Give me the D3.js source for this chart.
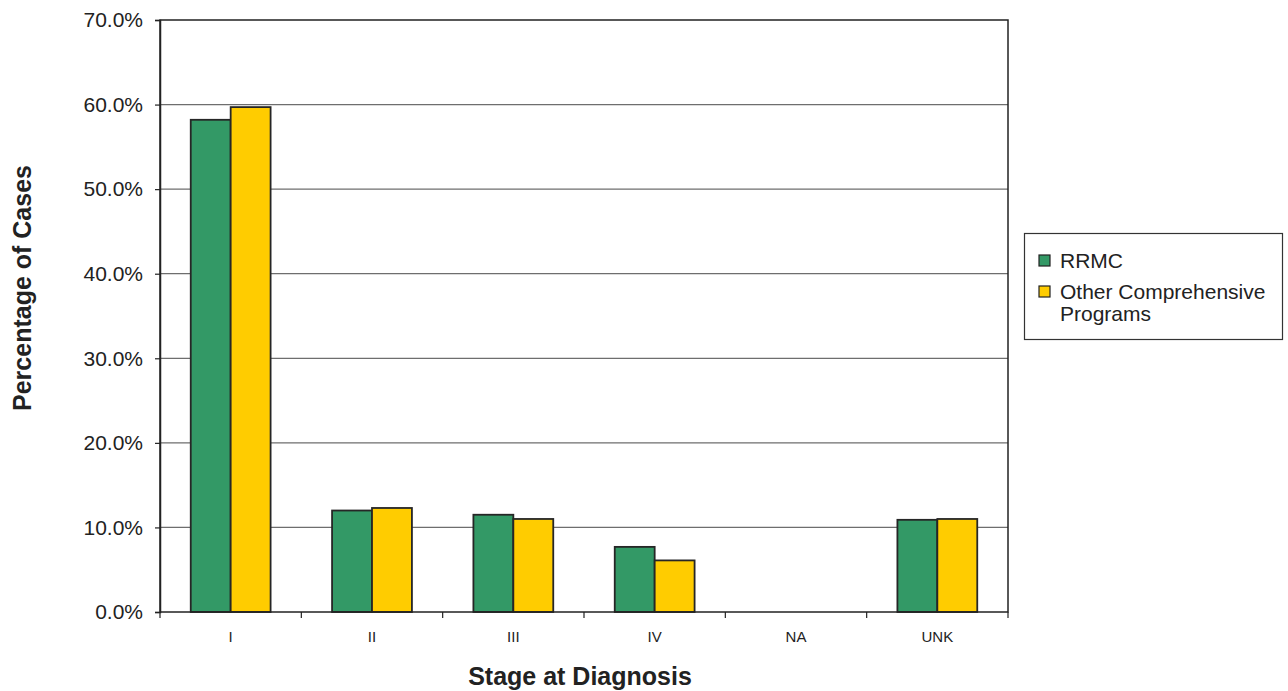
<!DOCTYPE html>
<html>
<head>
<meta charset="utf-8">
<script src="https://cdn.jsdelivr.net/npm/d3@7"></script>
<style>
  html, body { margin: 0; padding: 0; background: #fff; }
  svg { display: block; font-family: "Liberation Sans", Arial, sans-serif; }
</style>
</head>
<body>
<svg id="chart" width="1288" height="691"></svg>
<script>
// Stage at diagnosis, percentage of cases
const stages = ["I", "II", "III", "IV", "NA", "UNK"];
const seriesNames = ["RRMC", "Other Comprehensive Programs"];
const rrmc = [58.2, 12.0, 11.5, 7.7, 0.0, 10.9];
const otherPrograms = [59.7, 12.3, 11.0, 6.1, 0.0, 11.0];
const yTicks = [0, 10, 20, 30, 40, 50, 60, 70];
const colors = ["#339966", "#ffcc00"];

const svg = d3.select("#chart");
const plot = { left: 160, right: 1008, top: 20, bottom: 612 };

const x = d3.scaleBand().domain(stages).range([plot.left, plot.right]).padding(0);
const xs = d3.scaleBand().domain(seriesNames).range([0, x.bandwidth()]).paddingInner(0).paddingOuter(0.77);
const y = d3.scaleLinear().domain([0, 70]).range([plot.bottom, plot.top]);

// Gridlines
svg.append("g")
  .selectAll("line")
  .data(yTicks.filter(d => d > 0 && d < 70))
  .join("line")
  .attr("x1", plot.left).attr("x2", plot.right)
  .attr("y1", d => y(d)).attr("y2", d => y(d))
  .attr("stroke", "#6e6e6e").attr("stroke-width", 1.2);

// Bars
const rows = stages.map((s, i) => ({ stage: s, values: [rrmc[i], otherPrograms[i]] }));
const groups = svg.append("g").selectAll("g")
  .data(rows).join("g")
  .attr("transform", d => `translate(${x(d.stage)},0)`);

groups.selectAll("rect")
  .data(d => d.values.map((v, k) => ({ name: seriesNames[k], v, k })))
  .join("rect")
  .attr("x", d => xs(d.name))
  .attr("width", xs.bandwidth())
  .attr("y", d => y(d.v))
  .attr("height", d => y(0) - y(d.v))
  .attr("fill", d => colors[d.k])
  .attr("stroke", "#262626")
  .attr("stroke-width", d => d.v > 0 ? 1.8 : 0);

// Plot frame
svg.append("rect")
  .attr("x", plot.left).attr("y", plot.top)
  .attr("width", plot.right - plot.left).attr("height", plot.bottom - plot.top)
  .attr("fill", "none").attr("stroke", "#222").attr("stroke-width", 1.5);

// Y axis
const yAxis = d3.axisLeft(y).tickValues(yTicks)
  .tickFormat(d => d3.format(".1f")(d) + "%").tickSize(5).tickPadding(12);
svg.append("g").attr("transform", `translate(${plot.left},0)`).call(yAxis)
  .call(g => g.select(".domain").attr("stroke", "#222").attr("stroke-width", 1.5))
  .call(g => g.selectAll(".tick line").attr("stroke", "#222").attr("stroke-width", 1.2))
  .call(g => g.selectAll("text").attr("font-size", 21).attr("fill", "#222")
    .attr("font-family", "'Liberation Sans', Arial, sans-serif"));

// X axis: tick marks at category boundaries, labels at centers
const boundaries = stages.map(s => x(s)).concat([plot.right]);
svg.append("g").selectAll("line")
  .data(boundaries).join("line")
  .attr("x1", d => d).attr("x2", d => d)
  .attr("y1", plot.bottom).attr("y2", plot.bottom + 6)
  .attr("stroke", "#222").attr("stroke-width", 1.2);
svg.append("g").selectAll("text")
  .data(stages).join("text")
  .attr("x", d => x(d) + x.bandwidth() / 2)
  .attr("y", 642)
  .attr("text-anchor", "middle")
  .attr("font-size", 15).attr("fill", "#222")
  .text(d => d);

// Axis titles
svg.append("text")
  .attr("x", 580).attr("y", 685)
  .attr("text-anchor", "middle")
  .attr("font-size", 25).attr("font-weight", "bold").attr("fill", "#222")
  .text("Stage at Diagnosis");
svg.append("text")
  .attr("transform", "translate(31,288) rotate(-90)")
  .attr("text-anchor", "middle")
  .attr("font-size", 25).attr("font-weight", "bold").attr("fill", "#222")
  .text("Percentage of Cases");

// Legend
const legend = svg.append("g");
legend.append("rect")
  .attr("x", 1024.5).attr("y", 233.5).attr("width", 258).attr("height", 106)
  .attr("fill", "#fff").attr("stroke", "#333").attr("stroke-width", 1.2);
const legendItems = [
  { name: seriesNames[0], lines: ["RRMC"], y: 261 },
  { name: seriesNames[1], lines: ["Other Comprehensive", "Programs"], y: 292 }
];
legendItems.forEach((item, k) => {
  legend.append("rect")
    .attr("x", 1039).attr("y", item.y - 6).attr("width", 11).attr("height", 11)
    .attr("fill", colors[k]).attr("stroke", "#222").attr("stroke-width", 1.2);
  const t = legend.append("text")
    .attr("x", 1060).attr("y", item.y + 7)
    .attr("font-size", 21).attr("fill", "#222");
  item.lines.forEach((ln, j) => {
    t.append("tspan").attr("x", 1060).attr("dy", j === 0 ? 0 : 22).text(ln);
  });
});
</script>
</body>
</html>
